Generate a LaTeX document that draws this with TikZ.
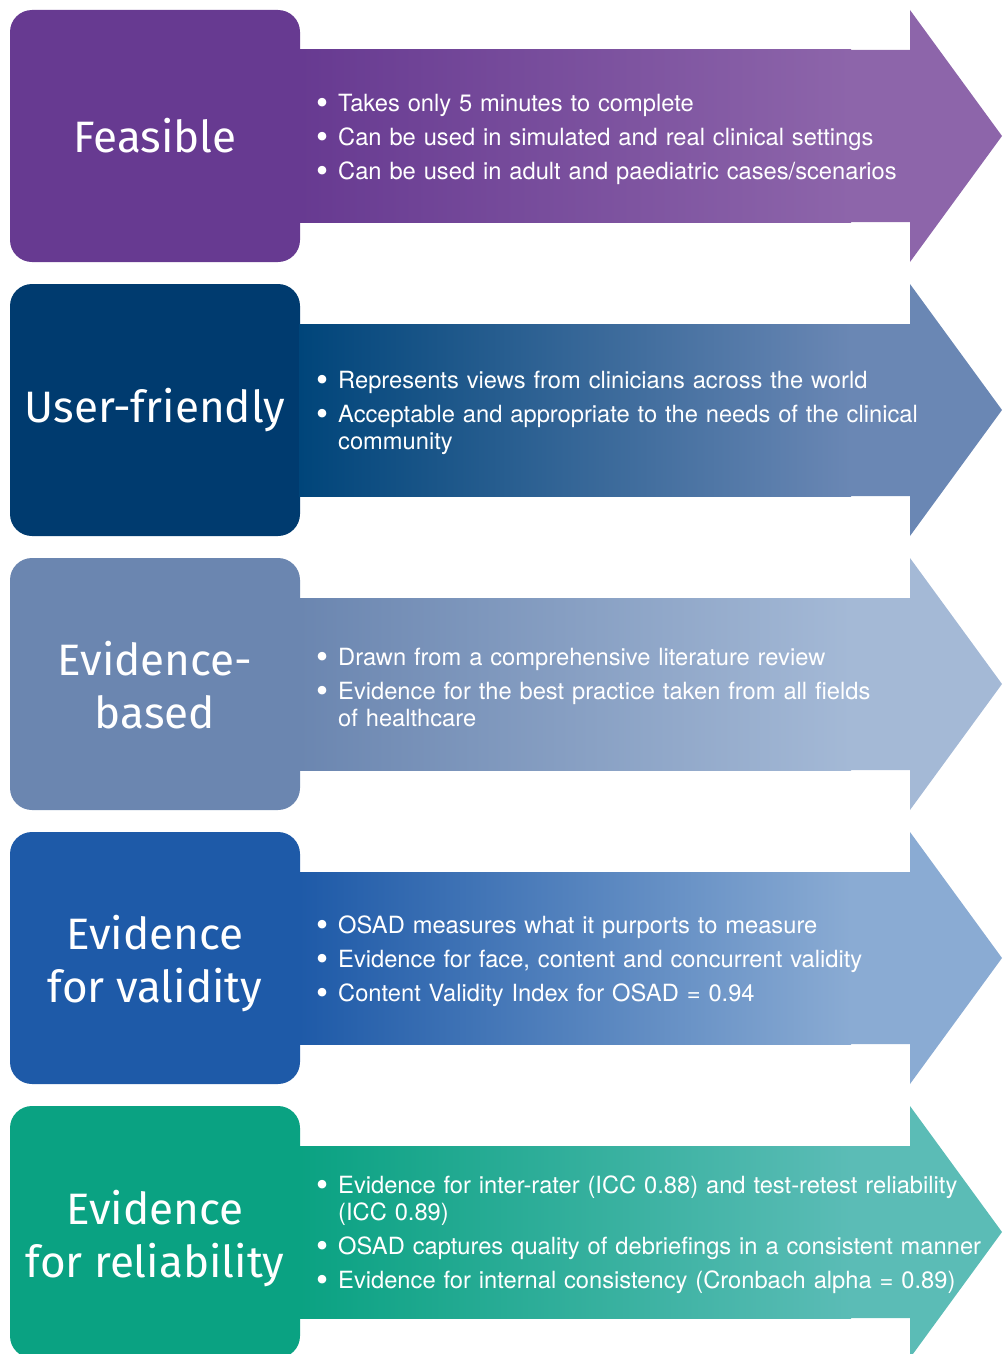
\documentclass[tikz,border=0pt]{standalone}
\usepackage{fontspec}
\setmainfont{TeX Gyre Heros}
\newfontfamily\titlefont{Fira Sans}
\definecolor{feasbox}{HTML}{673A91}
\definecolor{feasend}{HTML}{8D65AA}
\definecolor{userbox}{HTML}{003B6F}
\definecolor{userstart}{HTML}{00457A}
\definecolor{userend}{HTML}{6A87B4}
\definecolor{evidbox}{HTML}{6B86B0}
\definecolor{evidend}{HTML}{A4B9D6}
\definecolor{validbox}{HTML}{1E5AA8}
\definecolor{validend}{HTML}{8AABD3}
\definecolor{relibox}{HTML}{0AA282}
\definecolor{reliend}{HTML}{5BBCB6}
\newcommand\osaditem[1]{\par\hangindent=22pt\hangafter=1\noindent\makebox[22pt][l]{\raisebox{-0.12em}{\scalebox{1.45}{\textbullet}}}#1}
\tikzset{
  rowbox/.style={rounded corners=22pt},
  titletext/.style={text=white,align=center,inner sep=0pt,
    font=\titlefont\fontsize{44}{53}\selectfont},
  bullettext/.style={text=white,anchor=west,align=left,inner sep=0pt,text width=690pt,
    font=\fontsize{23.7}{27}\selectfont\setlength{\parskip}{7pt}}
}
\begin{document}
\begin{tikzpicture}[x=1pt,y=-1pt]
            \useasboundingbox (0,0) rectangle (1002,1354);
            \clip (0,0) rectangle (1002,1354);

            % Feasible
            \fill[feasbox,rowbox](10,10) rectangle (300,262);
            \fill[feasend](850,50) -- (910,50) -- (910,10) -- (1002,136) -- (910,262) -- (910,222) -- (850,222) -- cycle;
            \shade[left color=feasbox,right color=feasend](299,50) rectangle (851,222);
            \node[titletext] (feas) at (155,136){Feasible};
            \node[bullettext] (feastxt) at (316,131){%
              \osaditem{Takes only 5 minutes to complete}
              \osaditem{Can be used in simulated and real clinical settings}
              \osaditem{Can be used in adult and paediatric cases/scenarios}\par};

            % User-friendly
            \fill[userbox,rowbox](10,284) rectangle (300,536);
            \fill[userend](850,324) -- (910,324) -- (910,284) -- (1002,410) -- (910,536) -- (910,496) -- (850,496) -- cycle;
            \shade[left color=userstart,right color=userend](299,324) rectangle (851,496);
            \node[titletext] (user) at (155,410){User-friendly};
            \node[bullettext] (usertxt) at (316,405){%
              \osaditem{Represents views from clinicians across the world}
              \osaditem{Acceptable and appropriate to the needs of the clinical\newline community}\par};

            % Evidence-based
            \fill[evidbox,rowbox](10,558) rectangle (300,810);
            \fill[evidend](850,598) -- (910,598) -- (910,558) -- (1002,684) -- (910,810) -- (910,770) -- (850,770) -- cycle;
            \shade[left color=evidbox,right color=evidend](299,598) rectangle (851,770);
            \node[titletext] (evid) at (155,685){Evidence-\\based};
            \node[bullettext] (evidtxt) at (316,679){%
              \osaditem{Drawn from a comprehensive literature review}
              \osaditem{Evidence for the best practice taken from all fields\newline of healthcare}\par};

            % Evidence for validity
            \fill[validbox,rowbox](10,832) rectangle (300,1084);
            \fill[validend](850,872) -- (910,872) -- (910,832) -- (1002,958) -- (910,1084) -- (910,1044) -- (850,1044) -- cycle;
            \shade[left color=validbox,right color=validend](299,872) rectangle (851,1044);
            \node[titletext] (valid) at (155,964){Evidence\\for validity};
            \node[bullettext] (validtxt) at (316,953){%
              \osaditem{OSAD measures what it purports to measure}
              \osaditem{Evidence for face, content and concurrent validity}
              \osaditem{Content Validity Index for OSAD = 0.94}\par};

            % Evidence for reliability
            \fill[relibox,rowbox](10,1106) rectangle (300,1358);
            \fill[reliend](850,1146) -- (910,1146) -- (910,1106) -- (1002,1232) -- (910,1358) -- (910,1318) -- (850,1318) -- cycle;
            \shade[left color=relibox,right color=reliend](299,1146) rectangle (851,1318);
            \node[titletext] (reli) at (155,1239){Evidence\\for reliability};
            \node[bullettext] (relitxt) at (316,1227){%
              \osaditem{Evidence for inter-rater (ICC 0.88) and test-retest reliability\newline (ICC 0.89)}
              \osaditem{OSAD captures quality of debriefings in a consistent manner}
              \osaditem{Evidence for internal consistency (Cronbach alpha = 0.89)}\par};
        \end{tikzpicture}
\end{document}
